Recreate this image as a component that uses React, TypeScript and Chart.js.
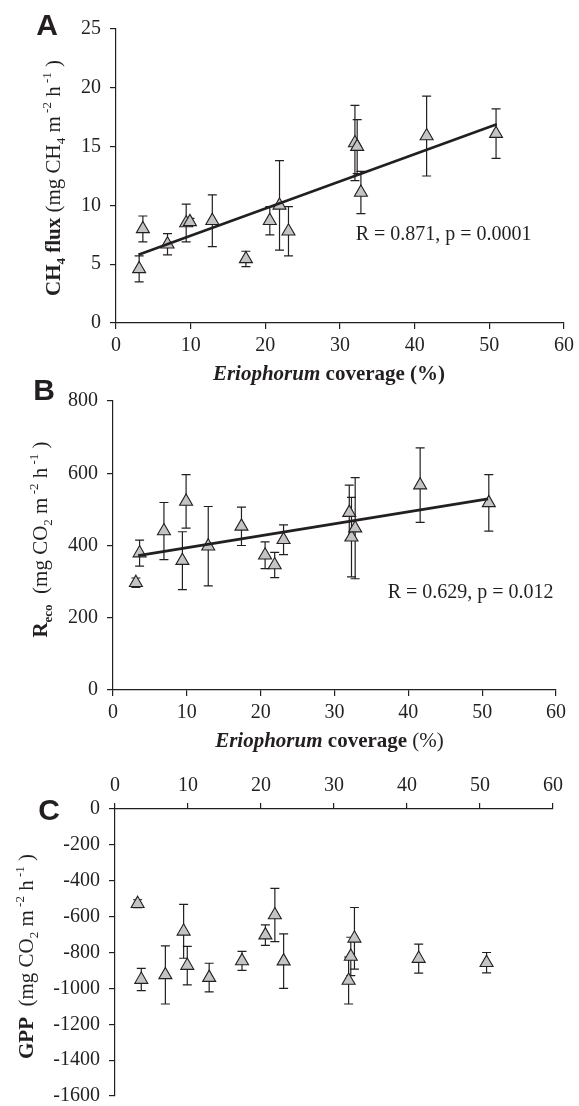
import React, { useEffect, useRef } from "react";
import { Chart, registerables } from "chart.js";

Chart.register(...registerables);

// ---------- data ----------
const coverage = [3.1, 3.6, 6.9, 9.4, 9.9, 12.9, 17.4, 20.6, 21.9, 23.1, 32.0, 32.3, 32.8, 41.6, 50.9];

const ch4Flux = [4.6, 8.0, 6.7, 8.5, 8.6, 8.7, 5.45, 8.7, 10.0, 7.8, 15.3, 15.0, 11.1, 15.9, 16.1];
const ch4Err = [1.1, 1.1, 0.9, 1.6, 0.3, 2.2, 0.65, 1.2, 3.8, 2.1, 3.2, 2.3, 1.8, 3.4, 2.1];
const ch4FitX = [3.0, 51.0];
const ch4FitY = [5.8, 16.9];

const recoValues = [297, 379, 440, 358, 522, 398, 453, 373, 346, 416, 491, 423, 448, 567, 518];
const recoErr = [13, 36, 79, 80, 74, 110, 53, 37, 35, 41, 76, 110, 140, 103, 78];
const recoFitX = [3.4, 50.8];
const recoFitY = [372, 529];

const gppValues = [-528, -951, -925, -682, -873, -940, -847, -703, -591, -848, -956, -822, -721, -834, -857];
const gppErr = [22, 62, 162, 150, 107, 80, 53, 57, 148, 152, 131, 107, 172, 81, 57];

const xTicks = { min: 0, max: 60, step: 10 };
const ch4Ticks = { min: 0, max: 25, step: 5 };
const recoTicks = { min: 0, max: 800, step: 200 };
const gppTicks = { min: -1600, max: 0, step: 200 };

const ch4Note = "R = 0.871, p = 0.0001";
const recoNote = "R = 0.629, p = 0.012";

// ---------- styling ----------
const SERIF = '"Liberation Serif", "Times New Roman", serif';
const SANS = '"Liberation Sans", Arial, sans-serif';
const INK = "#231f20";
const FILL = "#c4c4c4";
const TICK_SIZE = 20;
const TITLE_SIZE = 21;

type Seg = { t: string; b?: boolean; i?: boolean; s?: "sub" | "sup" };

function segFont(seg: Seg, size: number) {
  const sz = seg.s ? Math.round(size * 0.64) : size;
  return `${seg.i ? "italic " : ""}${seg.b ? "bold " : ""}${sz}px ${SERIF}`;
}

function richWidth(ctx: CanvasRenderingContext2D, segs: Seg[], size: number) {
  let w = 0;
  for (const s of segs) {
    ctx.font = segFont(s, size);
    w += ctx.measureText(s.t).width;
  }
  return w;
}

function drawRich(
  ctx: CanvasRenderingContext2D,
  segs: Seg[],
  size: number,
  ax: number,
  ay: number,
  rotate: boolean
) {
  ctx.save();
  ctx.translate(ax, ay);
  if (rotate) ctx.rotate(-Math.PI / 2);
  ctx.fillStyle = INK;
  ctx.textBaseline = "alphabetic";
  ctx.textAlign = "left";
  let x = -richWidth(ctx, segs, size) / 2;
  for (const s of segs) {
    ctx.font = segFont(s, size);
    const dy = s.s === "sub" ? size * 0.22 : s.s === "sup" ? -size * 0.42 : 0;
    ctx.fillText(s.t, x, dy);
    x += ctx.measureText(s.t).width;
  }
  ctx.restore();
}

const errorBarPlugin = {
  id: "errorBars",
  beforeDatasetsDraw(chart: any) {
    const ctx = chart.ctx;
    const yScale = chart.scales.y;
    chart.data.datasets.forEach((ds: any, i: number) => {
      if (!ds.errors) return;
      const meta = chart.getDatasetMeta(i);
      ctx.save();
      ctx.strokeStyle = INK;
      ctx.lineWidth = 1.2;
      meta.data.forEach((pt: any, j: number) => {
        const v = ds.data[j].y;
        const e = ds.errors[j];
        const x = pt.x;
        const yt = yScale.getPixelForValue(v + e);
        const yb = yScale.getPixelForValue(v - e);
        ctx.beginPath();
        ctx.moveTo(x, yt);
        ctx.lineTo(x, yb);
        ctx.moveTo(x - 4.5, yt);
        ctx.lineTo(x + 4.5, yt);
        ctx.moveTo(x - 4.5, yb);
        ctx.lineTo(x + 4.5, yb);
        ctx.stroke();
      });
      ctx.restore();
    });
  },
};

const decorPlugin = {
  id: "decor",
  afterDraw(chart: any, _args: any, opts: any) {
    const ctx = chart.ctx;
    const area = chart.chartArea;
    // panel letter
    ctx.save();
    ctx.fillStyle = INK;
    ctx.font = `bold 30px ${SANS}`;
    ctx.textAlign = "center";
    ctx.textBaseline = "alphabetic";
    ctx.fillText(opts.letter, opts.letterX, opts.letterY);
    ctx.restore();
    // note
    if (opts.note) {
      ctx.save();
      ctx.fillStyle = INK;
      ctx.font = `${TICK_SIZE}px ${SERIF}`;
      ctx.textAlign = "left";
      ctx.textBaseline = "alphabetic";
      ctx.fillText(
        opts.note,
        chart.scales.x.getPixelForValue(opts.noteX),
        chart.scales.y.getPixelForValue(opts.noteY)
      );
      ctx.restore();
    }
    // x title
    if (opts.xTitle) {
      drawRich(ctx, opts.xTitle, TITLE_SIZE, (area.left + area.right) / 2 + opts.xTitleDx, opts.xTitleY, false);
    }
    // y title
    drawRich(ctx, opts.yTitle, TITLE_SIZE, opts.yTitleX, (area.top + area.bottom) / 2 + opts.yTitleDy, true);
  },
};

const xTitleBold: Seg[] = [
  { t: "Eriophorum", b: true, i: true },
  { t: " coverage (%)", b: true },
];
const xTitleMixed: Seg[] = [
  { t: "Eriophorum", b: true, i: true },
  { t: " coverage", b: true },
  { t: " (%)" },
];
const ch4Title: Seg[] = [
  { t: "CH", b: true },
  { t: "4", b: true, s: "sub" },
  { t: " flux", b: true },
  { t: " (mg CH" },
  { t: "4", s: "sub" },
  { t: " m" },
  { t: " -2", s: "sup" },
  { t: " h" },
  { t: " -1", s: "sup" },
  { t: " )" },
];
const recoTitle: Seg[] = [
  { t: "R", b: true },
  { t: "eco", b: true, s: "sub" },
  { t: "  (mg CO" },
  { t: "2", s: "sub" },
  { t: " m" },
  { t: " -2", s: "sup" },
  { t: " h" },
  { t: " -1", s: "sup" },
  { t: " )" },
];
const gppTitle: Seg[] = [
  { t: "GPP", b: true },
  { t: "  (mg CO" },
  { t: "2", s: "sub" },
  { t: " m" },
  { t: " -2", s: "sup" },
  { t: " h" },
  { t: " -1", s: "sup" },
  { t: " )" },
];

function axisCfg(t: { min: number; max: number; step: number }, position: string, size: number, padding: number, isX: boolean) {
  return {
    type: "linear",
    position,
    min: t.min,
    max: t.max,
    ticks: {
      stepSize: t.step,
      color: INK,
      padding,
      font: { family: SERIF, size: TICK_SIZE },
      callback: (v: number) => String(v),
    },
    grid: {
      display: true,
      drawOnChartArea: false,
      drawTicks: true,
      tickLength: 6,
      color: INK,
      lineWidth: 1.2,
    },
    border: { display: true, color: INK, width: 1.2 },
    afterFit: (s: any) => {
      if (isX) s.height = size;
      else s.width = size;
    },
  };
}

function makeConfig(p: any) {
  const pts = coverage.map((x, i) => ({ x, y: p.values[i] }));
  const datasets: any[] = [];
  if (p.fitX) {
    datasets.push({
      data: p.fitX.map((x: number, i: number) => ({ x, y: p.fitY[i] })),
      showLine: true,
      borderColor: INK,
      borderWidth: 2.6,
      pointRadius: 0,
      fill: false,
      order: 0,
    });
  }
  datasets.push({
    data: pts,
    errors: p.errors,
    pointStyle: "triangle",
    pointRadius: 7.5,
    backgroundColor: FILL,
    borderColor: INK,
    borderWidth: 1.1,
    order: 1,
  });
  return {
    type: "scatter",
    data: { datasets },
    options: {
      animation: false,
      responsive: false,
      events: [],
      layout: { padding: p.padding },
      plugins: {
        legend: { display: false },
        tooltip: { enabled: false },
        decor: p.decor,
      },
      scales: {
        x: axisCfg(xTicks, p.xPos, p.xSize, p.xPad, true),
        y: axisCfg(p.yTicks, "left", p.ySize, 9, false),
      },
    },
    plugins: [errorBarPlugin, decorPlugin],
  };
}

const panels = [
  {
    key: "A",
    top: 0,
    height: 400,
    values: ch4Flux,
    errors: ch4Err,
    fitX: ch4FitX,
    fitY: ch4FitY,
    yTicks: ch4Ticks,
    xPos: "bottom",
    xSize: 77,
    xPad: 5,
    ySize: 116,
    padding: { left: 0, right: 13, top: 29, bottom: 0 },
    decor: {
      letter: "A",
      letterX: 47,
      letterY: 35,
      note: ch4Note,
      noteX: 32.1,
      noteY: 7.1,
      xTitle: xTitleBold,
      xTitleDx: -11,
      xTitleY: 380,
      yTitle: ch4Title,
      yTitleX: 60,
      yTitleDy: 2,
    },
  },
  {
    key: "B",
    top: 380,
    height: 380,
    values: recoValues,
    errors: recoErr,
    fitX: recoFitX,
    fitY: recoFitY,
    yTicks: recoTicks,
    xPos: "bottom",
    xSize: 70,
    xPad: 5,
    ySize: 113,
    padding: { left: 0, right: 23, top: 16, bottom: 0 },
    decor: {
      letter: "B",
      letterX: 44,
      letterY: 20,
      note: recoNote,
      noteX: 37.2,
      noteY: 255,
      xTitle: xTitleMixed,
      xTitleDx: -5,
      xTitleY: 367,
      yTitle: recoTitle,
      yTitleX: 47,
      yTitleDy: -6,
    },
  },
  {
    key: "C",
    top: 750,
    height: 370,
    values: gppValues,
    errors: gppErr,
    fitX: null,
    fitY: null,
    yTicks: gppTicks,
    xPos: "top",
    xSize: 59,
    xPad: 5,
    ySize: 115,
    padding: { left: 0, right: 26, top: 0, bottom: 24 },
    decor: {
      letter: "C",
      letterX: 49,
      letterY: 70,
      note: null,
      xTitle: null,
      yTitle: gppTitle,
      yTitleX: 33,
      yTitleDy: 4,
    },
  },
];

function Panel({ p }: { p: any }) {
  const ref = useRef<HTMLCanvasElement | null>(null);
  useEffect(() => {
    if (!ref.current) return;
    const chart = new Chart(ref.current, makeConfig(p) as any);
    return () => chart.destroy();
  }, []);
  return (
    <canvas
      ref={ref}
      width={579}
      height={p.height}
      style={{ position: "absolute", left: 0, top: p.top, width: 579, height: p.height }}
    />
  );
}

export default function App() {
  return (
    <div
      style={{
        position: "fixed",
        left: 0,
        top: 0,
        width: 579,
        height: 1106,
        overflow: "hidden",
        background: "#ffffff",
      }}
    >
      {panels.map((p) => (
        <Panel key={p.key} p={p} />
      ))}
    </div>
  );
}
